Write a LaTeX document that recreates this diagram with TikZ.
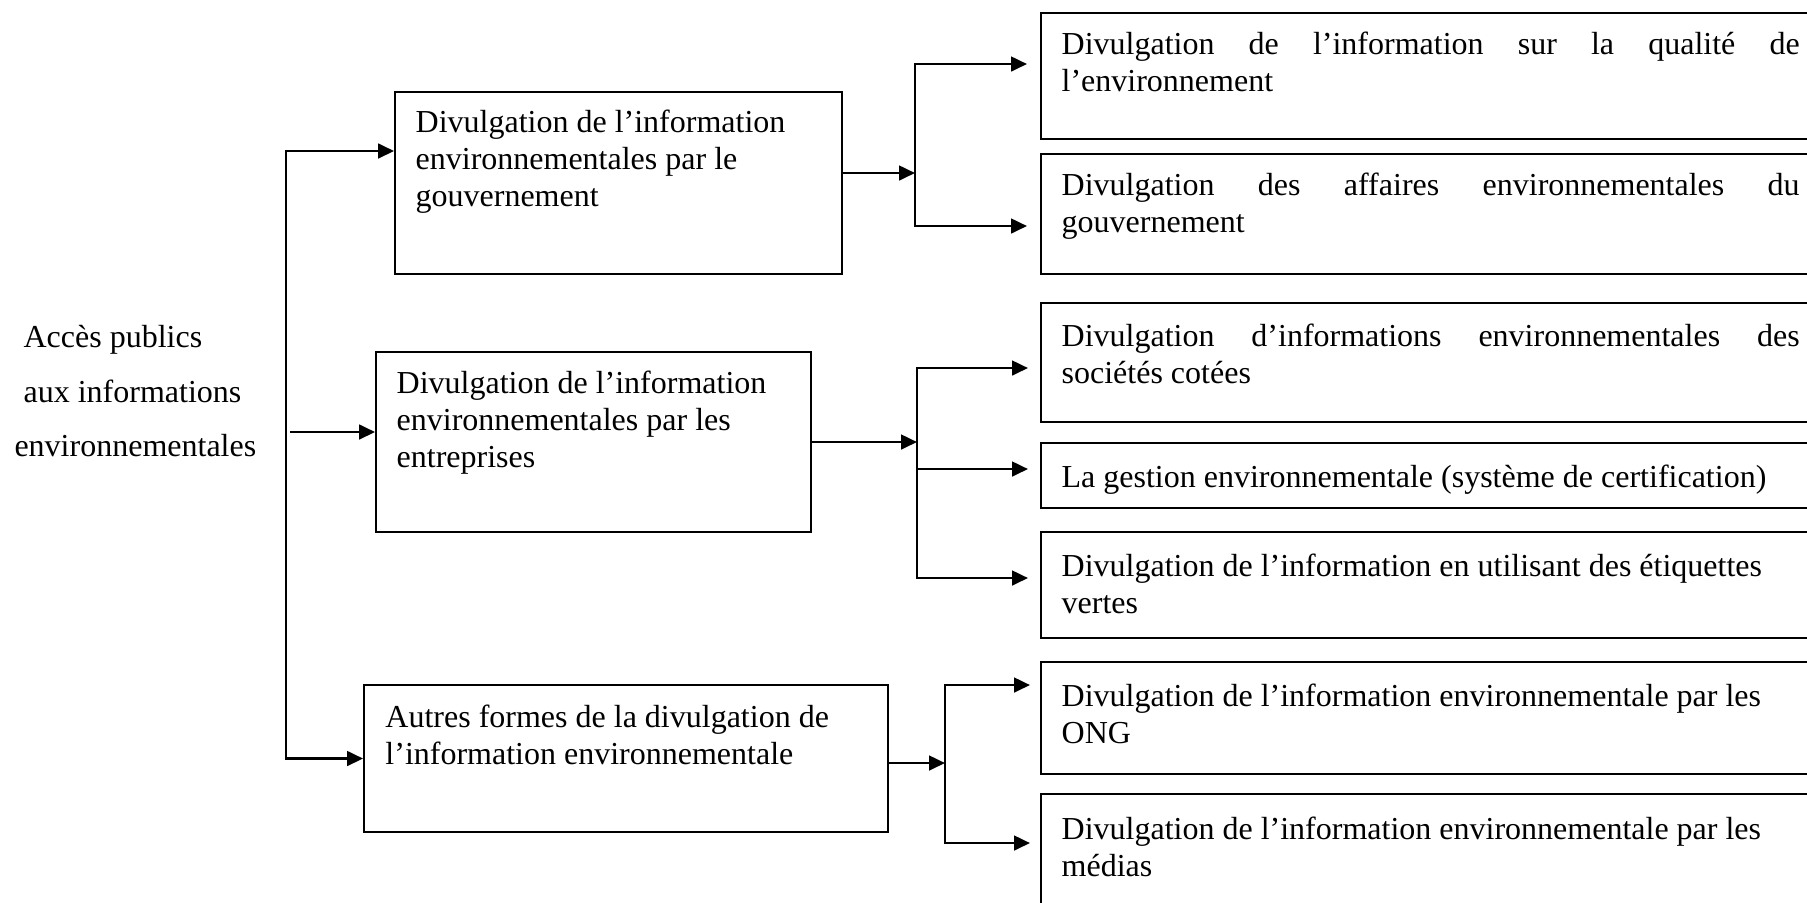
\documentclass[tikz,border=0pt]{standalone}
\usepackage{fontspec}
\setmainfont{Liberation Serif}
\usetikzlibrary{positioning, fit, arrows.meta, backgrounds}
\setlength{\parindent}{0pt}
\tolerance=10000
\hbadness=10000
\tikzset{
  box/.style={draw, line width=0.7pt, inner sep=0pt},
  txt/.style={inner sep=0pt, align=left, font=\fontsize{12pt}{13.9pt}\selectfont},
  jtxt/.style={txt, text width=276.75pt, align=justify},
  arr/.style={line width=1pt, -{Triangle[length=6pt,width=5.5pt]}},
  arrs/.style={line width=1pt, {Triangle[length=6pt,width=5.5pt]}-{Triangle[length=6pt,width=5.5pt]}},
}

\begin{document}
\begin{tikzpicture}[x=0.375pt,y=0.375pt,background rectangle/.style={fill=white},show background rectangle,inner frame sep=0pt]
  \useasboundingbox (0,0) rectangle (1807,-902);
  \clip (0,0) rectangle (1807,-902);
  % root text
  \node[txt, font=\fontsize{12pt}{20.4pt}\selectfont, anchor=north west] (acces) at (14,-325)
    {\hspace*{3.4pt}Accès publics\\ \hspace*{3.4pt}aux informations\\ environnementales};
  % middle boxes
  \node[box, fit={(395,-92) (842,-274)}] (gov) {};
  \node[box, fit={(376,-352) (811,-532)}] (ent) {};
  \node[box, fit={(364,-685) (888,-832)}] (aut) {};
  \node[txt, below right=6.8pt and 7.9pt of gov.north west] (govtxt)
    {Divulgation de l’information\\ environnementales par le\\ gouvernement};
  \node[txt, below right=7.1pt and 7.9pt of ent.north west] (enttxt)
    {Divulgation de l’information\\ environnementales par les\\ entreprises};
  \node[txt, below right=7.5pt and 8.2pt of aut.north west] (auttxt)
    {Autres formes de la divulgation de\\ l’information environnementale};
  % right boxes
  \node[box, fit={(1041,-13) (1830,-139)}] (r1) {};
  \node[box, fit={(1041,-154) (1830,-274)}] (r2) {};
  \node[box, fit={(1041,-303) (1830,-422)}] (r3) {};
  \node[box, fit={(1041,-443) (1830,-508)}] (r4) {};
  \node[box, fit={(1041,-532) (1830,-638)}] (r5) {};
  \node[box, fit={(1041,-662) (1830,-774)}] (r6) {};
  \node[box, fit={(1041,-794) (1830,-930)}] (r7) {};
  \node[jtxt, below right=7.1pt and 7.9pt of r1.north west] (r1txt)
    {Divulgation de l’information sur la qualité de\linebreak l’environnement};
  \node[jtxt, below right=7.1pt and 7.9pt of r2.north west] (r2txt)
    {Divulgation des affaires environnementales du\linebreak gouvernement};
  \node[jtxt, below right=8pt and 7.9pt of r3.north west] (r3txt)
    {Divulgation d’informations environnementales des\linebreak sociétés cotées};
  \node[txt, below right=8.2pt and 7.9pt of r4.north west] (r4txt)
    {La gestion environnementale (système de certification)};
  \node[txt, below right=8.5pt and 7.9pt of r5.north west] (r5txt)
    {Divulgation de l’information en utilisant des étiquettes\\ vertes};
  \node[txt, below right=8.5pt and 7.9pt of r6.north west] (r6txt)
    {Divulgation de l’information environnementale par les\\ ONG};
  \node[txt, below right=8.8pt and 7.9pt of r7.north west] (r7txt)
    {Divulgation de l’information environnementale par les\\ médias};
  % trunk
  \coordinate (t1) at (286,-151);
  \coordinate (t2) at (290,-432);
  \draw[arrs] (t1 -| gov.west) -- (t1) |- (aut.west);
  \draw[arr] (t2) -- (t2 -| ent.west);
  % first group
  \coordinate (s1) at (915,-173);
  \coordinate (a1) at (1027,-64);
  \coordinate (a2) at (1027,-226);
  \draw[arr] (s1 -| gov.east) -- (s1);
  \draw[arrs] (a1) -| (s1) |- (a2);
  % second group
  \coordinate (s2) at (917,-442);
  \coordinate (a3) at (1028,-368);
  \coordinate (a4) at (1028,-469);
  \coordinate (a5) at (1028,-578);
  \draw[arr] (ent.east) -- (s2);
  \draw[arrs] (a3) -| (s2) |- (a5);
  \draw[arr] (s2 |- a4) -- (a4);
  % third group
  \coordinate (s3) at (945,-763);
  \coordinate (a6) at (1030,-685);
  \coordinate (a7) at (1030,-843);
  \draw[arr] (s3 -| aut.east) -- (s3);
  \draw[arrs] (a6) -| (s3) |- (a7);
\end{tikzpicture}
\end{document}
